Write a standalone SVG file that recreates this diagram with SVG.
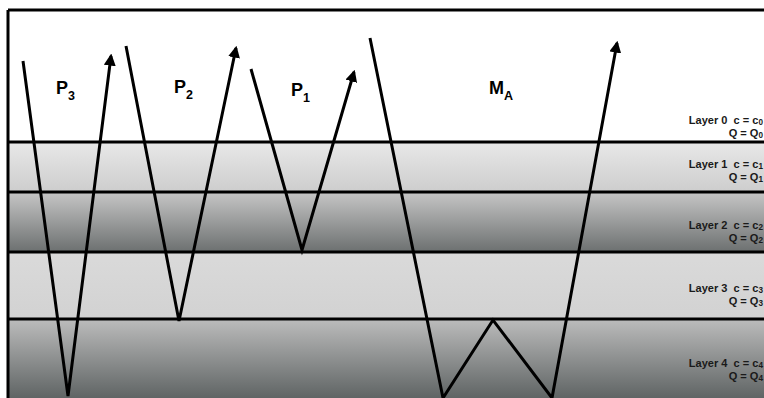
<svg xmlns="http://www.w3.org/2000/svg" width="764" height="398" viewBox="0 0 764 398">
<style>
.ray{fill:none;stroke:#000;stroke-width:3;stroke-linejoin:miter}
.bd{stroke:#000;stroke-width:3}
.big{font-family:"Liberation Sans",Arial,sans-serif;font-size:18px;font-weight:bold;fill:#000}
.bsub{font-size:12.5px}
.lab{font-family:"Liberation Sans",Arial,sans-serif;font-size:11.5px;font-weight:bold;fill:#1a1a1a;white-space:pre}
.ls{font-size:8.5px}
</style>
<defs>
<linearGradient id="g1" x1="0" y1="0" x2="0" y2="1"><stop offset="0" stop-color="#e8e8e8"/><stop offset="1" stop-color="#cdcdcd"/></linearGradient>
<linearGradient id="g2" x1="0" y1="0" x2="0" y2="1"><stop offset="0" stop-color="#c6c6c6"/><stop offset="1" stop-color="#6c7070"/></linearGradient>
<linearGradient id="g3" x1="0" y1="0" x2="0" y2="1"><stop offset="0" stop-color="#dadada"/><stop offset="1" stop-color="#d2d2d2"/></linearGradient>
<linearGradient id="g4" x1="0" y1="0" x2="0" y2="1"><stop offset="0" stop-color="#bcbcbc"/><stop offset="1" stop-color="#5c6161"/></linearGradient>
<marker id="ah" viewBox="0 0 10 10" refX="8" refY="5" markerWidth="4" markerHeight="4" orient="auto" markerUnits="strokeWidth">
<path d="M0,0 L10,5 L0,10 Z" fill="#000"/>
</marker>
</defs>
<g id="layers">
<rect x="8" y="10" width="760" height="132" fill="#fff"/>
<rect x="8" y="142" width="760" height="50" fill="url(#g1)"/>
<rect x="8" y="192" width="760" height="60" fill="url(#g2)"/>
<rect x="8" y="252" width="760" height="67" fill="url(#g3)"/>
<rect x="8" y="319" width="760" height="82" fill="url(#g4)"/>
<line class="bd" x1="8" y1="10" x2="764" y2="10"/>
<line class="bd" x1="8" y1="10" x2="8" y2="398"/>
<line class="bd" x1="8" y1="142" x2="764" y2="142"/>
<line class="bd" x1="8" y1="192" x2="764" y2="192"/>
<line class="bd" x1="8" y1="252" x2="764" y2="252"/>
<line class="bd" x1="8" y1="319" x2="764" y2="319"/>
</g>
<g id="connectors">
<polyline id="ray-p3" class="ray" points="23,61 68,396 111,56" marker-end="url(#ah)"/>
<polyline id="ray-p2" class="ray" points="126,46 179,321 236,48" marker-end="url(#ah)"/>
<polyline id="ray-p1" class="ray" points="251,69 302,250 354,72" marker-end="url(#ah)"/>
<polyline id="ray-ma" class="ray" points="370,38 443,398 493,320 552,398 617,43" marker-end="url(#ah)"/>
</g>
<g id="names">
<text id="p3" class="big" x="56" y="94">P<tspan class="bsub" dy="6">3</tspan></text>
<text id="p2" class="big" x="174" y="93">P<tspan class="bsub" dy="6">2</tspan></text>
<text id="p1" class="big" x="291" y="96">P<tspan class="bsub" dy="6">1</tspan></text>
<text id="ma" class="big" x="489" y="94">M<tspan class="bsub" dy="6">A</tspan></text>
</g>
<g id="labels" text-anchor="end">
<g id="layer0" transform="translate(763,123.5) scale(0.96,1)"><text class="lab" x="0" y="0">Layer 0  c = c<tspan class="ls" dy="1">0</tspan></text><text class="lab" x="0" y="13.5">Q = Q<tspan class="ls" dy="1">0</tspan></text></g>
<g id="layer1" transform="translate(763,167.5) scale(0.96,1)"><text class="lab" x="0" y="0">Layer 1  c = c<tspan class="ls" dy="1">1</tspan></text><text class="lab" x="0" y="13.5">Q = Q<tspan class="ls" dy="1">1</tspan></text></g>
<g id="layer2" transform="translate(763,228.5) scale(0.96,1)"><text class="lab" x="0" y="0">Layer 2  c = c<tspan class="ls" dy="1">2</tspan></text><text class="lab" x="0" y="13.5">Q = Q<tspan class="ls" dy="1">2</tspan></text></g>
<g id="layer3" transform="translate(763,291.5) scale(0.96,1)"><text class="lab" x="0" y="0">Layer 3  c = c<tspan class="ls" dy="1">3</tspan></text><text class="lab" x="0" y="13.5">Q = Q<tspan class="ls" dy="1">3</tspan></text></g>
<g id="layer4" transform="translate(763,366.5) scale(0.96,1)"><text class="lab" x="0" y="0">Layer 4  c = c<tspan class="ls" dy="1">4</tspan></text><text class="lab" x="0" y="13.5">Q = Q<tspan class="ls" dy="1">4</tspan></text></g>
</g>
</svg>
